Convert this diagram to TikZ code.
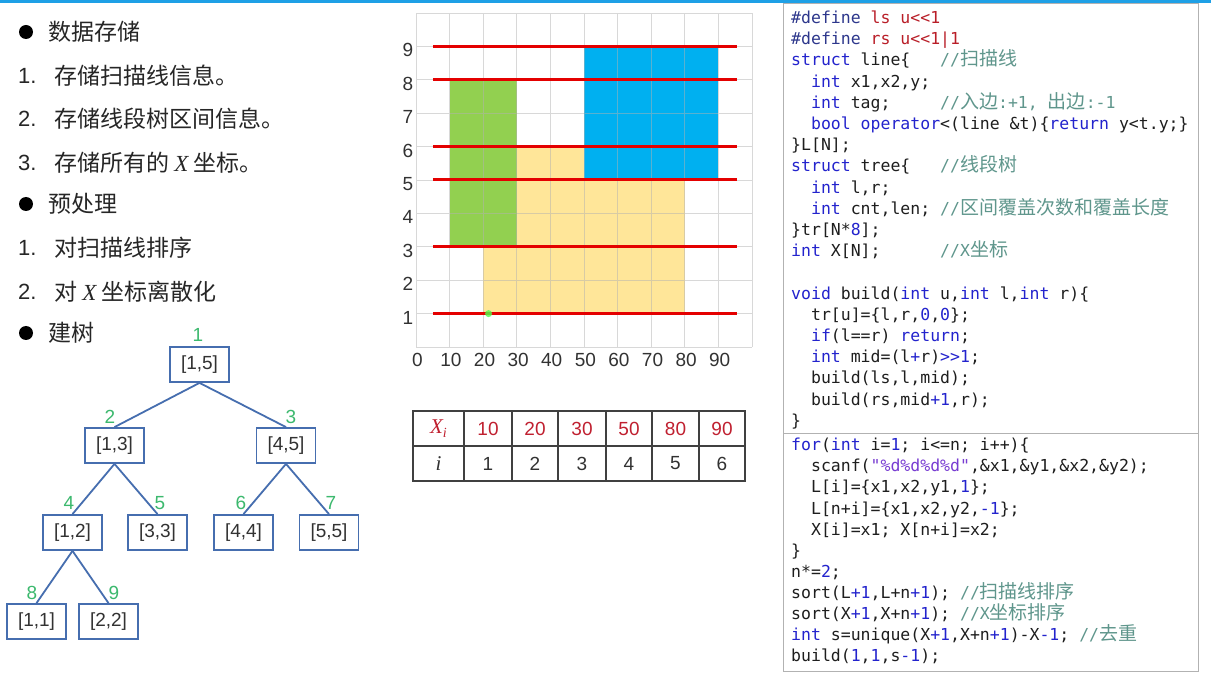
\documentclass[tikz,border=0pt]{standalone}
\usepackage{fontspec}
\setmainfont{Liberation Sans}
\setmonofont{DejaVu Sans Mono}
\newfontfamily\cjk{Noto Sans CJK SC}
\newfontfamily\serifit{Liberation Serif}
\definecolor{topbar}{RGB}{30,160,230}
\definecolor{treeblue}{RGB}{70,110,175}
\definecolor{labgreen}{RGB}{60,185,110}
\definecolor{cgreen}{RGB}{146,208,80}
\definecolor{cblue}{RGB}{0,176,240}
\definecolor{cyellow}{RGB}{255,230,153}
\definecolor{lnred}{RGB}{228,0,0}
\definecolor{xred}{RGB}{192,32,48}
\definecolor{kwblue}{RGB}{35,35,205}
\definecolor{ppblue}{RGB}{45,55,140}
\definecolor{macred}{RGB}{185,30,40}
\definecolor{cmtc}{RGB}{95,150,140}
\definecolor{strc}{RGB}{120,60,210}
\definecolor{numc}{RGB}{35,35,205}
\definecolor{codetext}{RGB}{30,30,30}
\definecolor{darktext}{RGB}{50,50,50}
\newcommand\ckw[1]{\textcolor{kwblue}{#1}}
\newcommand\cpp[1]{\textcolor{ppblue}{#1}}
\newcommand\cnum[1]{\textcolor{numc}{#1}}
\newcommand\cred[1]{\textcolor{macred}{#1}}
\newcommand\ccmt[1]{\textcolor{cmtc}{#1}}
\newcommand\cstr[1]{\textcolor{strc}{#1}}
\newcommand\ccjk[1]{{\cjk\fontsize{19}{21}\selectfont #1}}
\newcommand\itX{{\serifit\itshape X}}
\begin{document}
\begin{tikzpicture}[x=1pt,y=-1pt,
  bigcjk/.style={anchor=west, inner sep=0, font=\cjk\fontsize{23}{27}\selectfont, text=black!85},
  numtxt/.style={anchor=west, inner sep=0, font=\fontsize{22}{26}\selectfont, text=black!85},
  tbox/.style={draw=treeblue, line width=1.8pt, minimum width=59pt, minimum height=35pt, inner sep=0, font=\fontsize{19}{22}\selectfont, text=darktext},
  tlab/.style={inner sep=0, font=\fontsize{19}{22}\selectfont, text=labgreen},
  tedge/.style={draw=treeblue, line width=1.8pt},
  axlab/.style={inner sep=0, font=\fontsize{19}{22}\selectfont, text=darktext},
  scanline/.style={draw=lnred, line width=3pt},
  cell/.style={draw=black!75, line width=1.2pt, minimum height=35pt, inner sep=0, font=\fontsize{19}{22}\selectfont},
  codeline/.style={anchor=base west, inner sep=0, font=\ttfamily\fontsize{16.5}{20}\selectfont, text=codetext},
  codebox/.style={draw=black!30, line width=1pt}
]
\useasboundingbox (0,0) rectangle (1211,676);
\fill[white] (0,0) rectangle (1211,676);
\fill[topbar] (0,0) rectangle (1211,3);

% ---------- left text ----------
\fill[black] (26,32) circle[radius=7];
\node[bigcjk] (h1) at (48,32) {数据存储};
\node[numtxt] (n1a) at (18,76) {1.};
\node[bigcjk] (s1a) at (54,76) {存储扫描线信息。};
\node[numtxt] (n1b) at (18,119) {2.};
\node[bigcjk] (s1b) at (54,119) {存储线段树区间信息。};
\node[numtxt] (n1c) at (18,163) {3.};
\node[bigcjk] (s1c) at (54,163) {存储所有的 \itX{} 坐标。};
\fill[black] (26,204) circle[radius=7];
\node[bigcjk] (h2) at (48,204) {预处理};
\node[numtxt] (n2a) at (18,248) {1.};
\node[bigcjk] (s2a) at (54,248) {对扫描线排序};
\node[numtxt] (n2b) at (18,292) {2.};
\node[bigcjk] (s2b) at (54,292) {对 \itX{} 坐标离散化};
\fill[black] (26,333) circle[radius=7];
\node[bigcjk] (h3) at (48,333) {建树};

% ---------- tree ----------
\node[tbox] (r1) at (199.5,364.5) {[1,5]};
\node[tbox] (r2) at (114.5,445.5) {[1,3]};
\node[tbox] (r3) at (286,445.5) {[4,5]};
\node[tbox] (r4) at (72.5,532.5) {[1,2]};
\node[tbox] (r5) at (157.5,532.5) {[3,3]};
\node[tbox] (r6) at (243.5,532.5) {[4,4]};
\node[tbox] (r7) at (329,532.5) {[5,5]};
\node[tbox] (r8) at (36.5,621.5) {[1,1]};
\node[tbox] (r9) at (108.5,621.5) {[2,2]};
\node[tlab] (l1) at ([xshift=-1.5pt,yshift=11pt]r1.north) {1};
\node[tlab] (l2) at ([xshift=-4.5pt,yshift=10pt]r2.north) {2};
\node[tlab] (l3) at ([xshift=5pt,yshift=10pt]r3.north) {3};
\node[tlab] (l4) at ([xshift=-3.5pt,yshift=11pt]r4.north) {4};
\node[tlab] (l5) at ([xshift=2.5pt,yshift=11pt]r5.north) {5};
\node[tlab] (l6) at ([xshift=-2.5pt,yshift=11pt]r6.north) {6};
\node[tlab] (l7) at ([xshift=2pt,yshift=11pt]r7.north) {7};
\node[tlab] (l8) at ([xshift=-4.5pt,yshift=10pt]r8.north) {8};
\node[tlab] (l9) at ([xshift=5.5pt,yshift=10pt]r9.north) {9};
\draw[tedge] (r1.south) -- (r2.north);
\draw[tedge] (r1.south) -- (r3.north);
\draw[tedge] (r2.south) -- (r4.north);
\draw[tedge] (r2.south) -- (r5.north);
\draw[tedge] (r3.south) -- (r6.north);
\draw[tedge] (r3.south) -- (r7.north);
\draw[tedge] (r4.south) -- (r8.north);
\draw[tedge] (r4.south) -- (r9.north);

% ---------- chart ----------
\begin{scope}[shift={(416,347)}, x=3.36pt, y=33.4pt]
  \fill[cyellow] (20,1) rectangle (80,6);
  \fill[cgreen] (10,3) rectangle (30,8);
  \fill[cblue] (50,5) rectangle (90,9);
  \draw[black!30, draw opacity=0.5, line width=0.8pt] (0,0) grid[xstep=10,ystep=1] (100,10);
  \foreach \yy in {1,3,5,6,8,9} \draw[scanline] (5,\yy) -- (95.5,\yy);
  \fill[green!70!white, opacity=0.8] (21.6,1) circle[radius=3.5pt];
  \foreach \yy in {1,...,9} \node[axlab] (ya\yy) at ([yshift=-4pt]-2.4,\yy) {\yy};
  \foreach \xx in {0,10,20,30,40,50,60,70,80,90} \node[axlab] (xa\xx) at (\xx+0.4,-0.39) {\xx};
\end{scope}

% ---------- table ----------
\node[cell, minimum width=51pt, text=xred] (c10) at (438.5,428.5) {{\fontsize{21}{24}\selectfont\itX}\raisebox{-4pt}{\fontsize{14}{16}\selectfont\serifit\itshape i}};
\node[cell, minimum width=48pt, text=xred] (c11) at (488,428.5) {10};
\node[cell, minimum width=46pt, text=xred] (c12) at (535,428.5) {20};
\node[cell, minimum width=48pt, text=xred] (c13) at (582,428.5) {30};
\node[cell, minimum width=46pt, text=xred] (c14) at (629,428.5) {50};
\node[cell, minimum width=47pt, text=xred] (c15) at (675.5,428.5) {80};
\node[cell, minimum width=46pt, text=xred] (c16) at (722,428.5) {90};
\node[cell, minimum width=51pt, text=darktext] (c20) at (438.5,463.5) {{\fontsize{21}{24}\selectfont\serifit\itshape i}};
\node[cell, minimum width=48pt, text=darktext] (c21) at (488,463.5) {1};
\node[cell, minimum width=46pt, text=darktext] (c22) at (535,463.5) {2};
\node[cell, minimum width=48pt, text=darktext] (c23) at (582,463.5) {3};
\node[cell, minimum width=46pt, text=darktext] (c24) at (629,463.5) {4};
\node[cell, minimum width=47pt, text=darktext] (c25) at (675.5,463.5) {5};
\node[cell, minimum width=46pt, text=darktext] (c26) at (722,463.5) {6};

% ---------- code ----------
\draw[codebox] (783,4) rectangle (1198,433);
\draw[codebox] (783,433) rectangle (1198,671);
\node[codeline] (a0) at (791,23.5) {\cpp{\#define} \cred{ls u<<1}};
\node[codeline] (a1) at (791,44.7) {\cpp{\#define} \cred{rs u<<1|1}};
\node[codeline] (a2) at (791,65.9) {\ckw{struct} line\{~~~\ccmt{//\ccjk{扫描线}}};
\node[codeline] (a3) at (791,87.1) {~~\ckw{int} x1,x2,y;};
\node[codeline] (a4) at (791,108.3) {~~\ckw{int} tag;~~~~~\ccmt{//\ccjk{入边}:+1, \ccjk{出边}:-1}};
\node[codeline] (a5) at (791,129.5) {~~\ckw{bool} \ckw{operator}<(line \&t)\{\ckw{return} y<t.y;\}};
\node[codeline] (a6) at (791,150.7) {\}L[N];};
\node[codeline] (a7) at (791,171.9) {\ckw{struct} tree\{~~~\ccmt{//\ccjk{线段树}}};
\node[codeline] (a8) at (791,193.1) {~~\ckw{int} l,r;};
\node[codeline] (a9) at (791,214.3) {~~\ckw{int} cnt,len;~\ccmt{//\ccjk{区间覆盖次数和覆盖长度}}};
\node[codeline] (a10) at (791,235.5) {\}tr[N*\cnum{8}];};
\node[codeline] (a11) at (791,256.7) {\ckw{int} X[N];~~~~~~\ccmt{//X\ccjk{坐标}}};
\node[codeline] (a13) at (791,299.1) {\ckw{void} build(\ckw{int} u,\ckw{int} l,\ckw{int} r)\{};
\node[codeline] (a14) at (791,320.3) {~~tr[u]=\{l,r,\cnum{0},\cnum{0}\};};
\node[codeline] (a15) at (791,341.5) {~~\ckw{if}(l==r) \ckw{return};};
\node[codeline] (a16) at (791,362.7) {~~\ckw{int} mid=(l\cnum{+}r)\cnum{>>1};};
\node[codeline] (a17) at (791,383.9) {~~build(ls,l,mid);};
\node[codeline] (a18) at (791,405.1) {~~build(rs,mid\cnum{+1},r);};
\node[codeline] (a19) at (791,426.3) {\}};

\node[codeline] (b0) at (791,450.7) {\ckw{for}(\ckw{int} i=\cnum{1}; i<=n; i++)\{};
\node[codeline] (b1) at (791,471.8) {~~scanf(\cstr{"\%d\%d\%d\%d"},\&x1,\&y1,\&x2,\&y2);};
\node[codeline] (b2) at (791,492.9) {~~L[i]=\{x1,x2,y1,\cnum{1}\};};
\node[codeline] (b3) at (791,514.0) {~~L[n+i]=\{x1,x2,y2,\cnum{-1}\};};
\node[codeline] (b4) at (791,535.1) {~~X[i]=x1; X[n+i]=x2;};
\node[codeline] (b5) at (791,556.2) {\}};
\node[codeline] (b6) at (791,577.3) {n*=\cnum{2};};
\node[codeline] (b7) at (791,598.4) {sort(L\cnum{+1},L+n\cnum{+1}); \ccmt{//\ccjk{扫描线排序}}};
\node[codeline] (b8) at (791,619.5) {sort(X\cnum{+1},X+n\cnum{+1}); \ccmt{//X\ccjk{坐标排序}}};
\node[codeline] (b9) at (791,640.6) {\ckw{int} s=unique(X\cnum{+1},X+n\cnum{+1})-X\cnum{-1}; \ccmt{//\ccjk{去重}}};
\node[codeline] (b10) at (791,661.7) {build(\cnum{1},\cnum{1},s\cnum{-1});};
\end{tikzpicture}
\end{document}
